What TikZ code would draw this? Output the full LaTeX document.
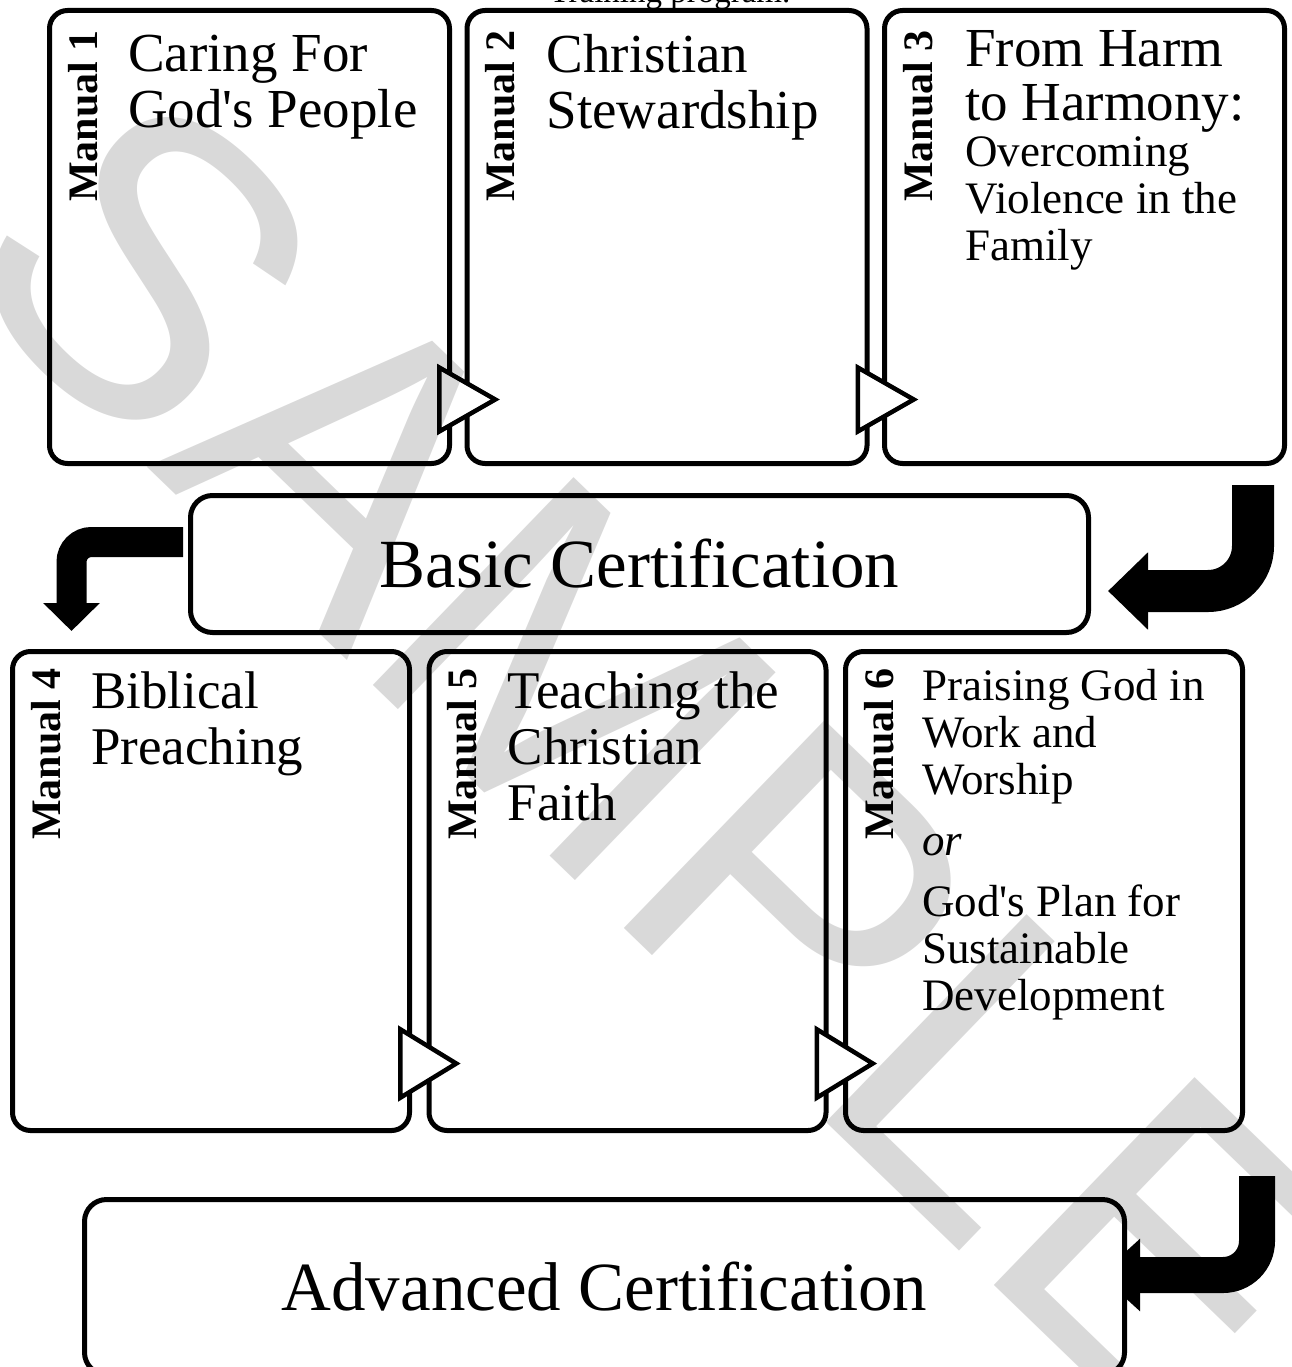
\documentclass[tikz,border=0pt]{standalone}
\usepackage{fontspec}
\setmainfont{Liberation Serif}
\newfontfamily\markfont{Liberation Sans}
\usetikzlibrary{positioning,calc,shapes.geometric,arrows.meta}

\begin{document}
\begin{tikzpicture}[
  x=1pt, y=1pt,
  manualbox/.style={
        draw,
        line width=5pt,
        rounded corners=18pt,
        minimum width=400pt,
        minimum height=453pt,
        inner sep=0pt
  },
  lowbox/.style={
        manualbox,
        minimum width=397pt,
        minimum height=479pt
  },
  certbox/.style={
        draw,
        line width=5pt,
        rounded corners=22pt,
        font=\fontsize{69}{69}\selectfont,
        inner sep=0pt
  },
  manuallabel/.style={
        font=\fontsize{42}{42}\selectfont\bfseries,
        rotate=90,
        anchor=base east,
        inner sep=0pt
  },
  titletext/.style={
        font=\fontsize{55}{56}\selectfont,
        align=left,
        anchor=north west,
        inner sep=0pt
  },
  lowtitle/.style={
        titletext,
        font=\fontsize{53}{56}\selectfont
  },
  smalltitle/.style={
        titletext,
        font=\fontsize{45}{47}\selectfont
  },
  flowtri/.style={
        isosceles triangle,
        isosceles triangle stretches,
        draw,
        fill=white,
        line width=4.5pt,
        minimum height=56pt,
        minimum width=64pt,
        inner sep=0pt,
        anchor=lower side
  },
  bendarrow/.style={
        line width=#1
  },
  watermark/.style={
        font=\markfont\fontsize{420}{420}\selectfont,
        text=black,
        text opacity=0.15,
        inner sep=0pt
  }
]

    \useasboundingbox (0,0) rectangle (1291,-1367);

    \node[font=\fontsize{33}{33}\selectfont, anchor=base] (training) at (670,-3) {Training program.};

    % top row
    \node[manualbox, anchor=north west] (m1) at (47,-8) {};
    \node[manualbox, right=12.5pt of m1] (m2) {};
    \node[manualbox, right=12.5pt of m2] (m3) {};

    \node[manuallabel] (lab1) at ($(m1.north west)+(50,-22)$) {Manual 1};
    \node[manuallabel] (lab2) at ($(m2.north west)+(50,-22)$) {Manual 2};
    \node[manuallabel] (lab3) at ($(m3.north west)+(50,-22)$) {Manual 3};

    \node[titletext] (t1) at ($(m1.north west)+(81,-26.4)$) {Caring For\\God\textquotesingle s People};
    \node[titletext] (t2) at ($(m2.north west)+(82,-26.4)$) {Christian\\Stewardship};
    \node[smalltitle] (t3) at ($(m3.north west)+(83,-22.6)$)
        {{\fontsize{55}{55}\selectfont From Harm}\\[7pt]{\fontsize{55}{55}\selectfont to Harmony:}\\[-1pt]Overcoming\\Violence in the\\Family};

    \node[flowtri] (a12) at ($(m1.south east)+(-15,66.5)$) {};
    \node[flowtri] (a23) at ($(m2.south east)+(-14,66.5)$) {};

    % basic certification
    \node[certbox, minimum width=898pt, minimum height=137pt,
          below right=27pt and 141pt of m1.south west] (basic) {Basic Certification};

    \coordinate (bend1a) at (1253,-485);
    \coordinate (bend1b) at (1108,-591);
    \draw[bendarrow=42pt, rounded corners=45pt, -{Triangle[length=40pt,width=75pt]}] (bend1a) |- (bend1b);

    \coordinate (bend2a) at (183,-542);
    \coordinate (bend2b) at (71.5,-631);
    \draw[bendarrow=30pt, rounded corners=20pt, -{Triangle[length=28pt,width=55pt]}] (bend2a) -| (bend2b);

    % bottom row
    \node[lowbox, anchor=north west] (m4) at (10,-649) {};
    \node[lowbox, right=14.5pt of m4] (m5) {};
    \node[lowbox, right=14.5pt of m5] (m6) {};

    \node[manuallabel] (lab4) at ($(m4.north west)+(50,-19)$) {Manual 4};
    \node[manuallabel] (lab5) at ($(m5.north west)+(50,-19)$) {Manual 5};
    \node[manuallabel] (lab6) at ($(m6.north west)+(50,-19)$) {Manual 6};

    \node[lowtitle] (t4) at ($(m4.north west)+(81,-22.8)$) {Biblical\\Preaching};
    \node[lowtitle] (t5) at ($(m5.north west)+(81,-22.8)$) {Teaching the\\Christian\\Faith};
    \node[smalltitle] (t6) at ($(m6.north west)+(79,-20.3)$)
        {Praising God in\\Work and\\Worship\\[14pt]\textit{or}\\[14pt]God\textquotesingle s Plan for\\Sustainable\\Development};

    \node[flowtri, minimum width=68.5pt] (a45) at ($(m4.south east)+(-14,69.5)$) {};
    \node[flowtri, minimum width=68.5pt] (a56) at ($(m5.south east)+(-14,69.5)$) {};

    % advanced certification
    \coordinate (bend3a) at (1257,-1176);
    \coordinate (bend3b) at (1100,-1275);
    \draw[bendarrow=36pt, rounded corners=34pt, -{Triangle[length=40pt,width=70pt]}] (bend3a) |- (bend3b);

    \node[certbox, fill=white, minimum width=1040pt, minimum height=175pt,
          below right=64pt and 72pt of m4.south west] (advanced) {Advanced Certification};

    \node[watermark, rotate=-44, anchor=base west] (wm) at (-55,-272) {SAMPLE};
\end{tikzpicture}
\end{document}
